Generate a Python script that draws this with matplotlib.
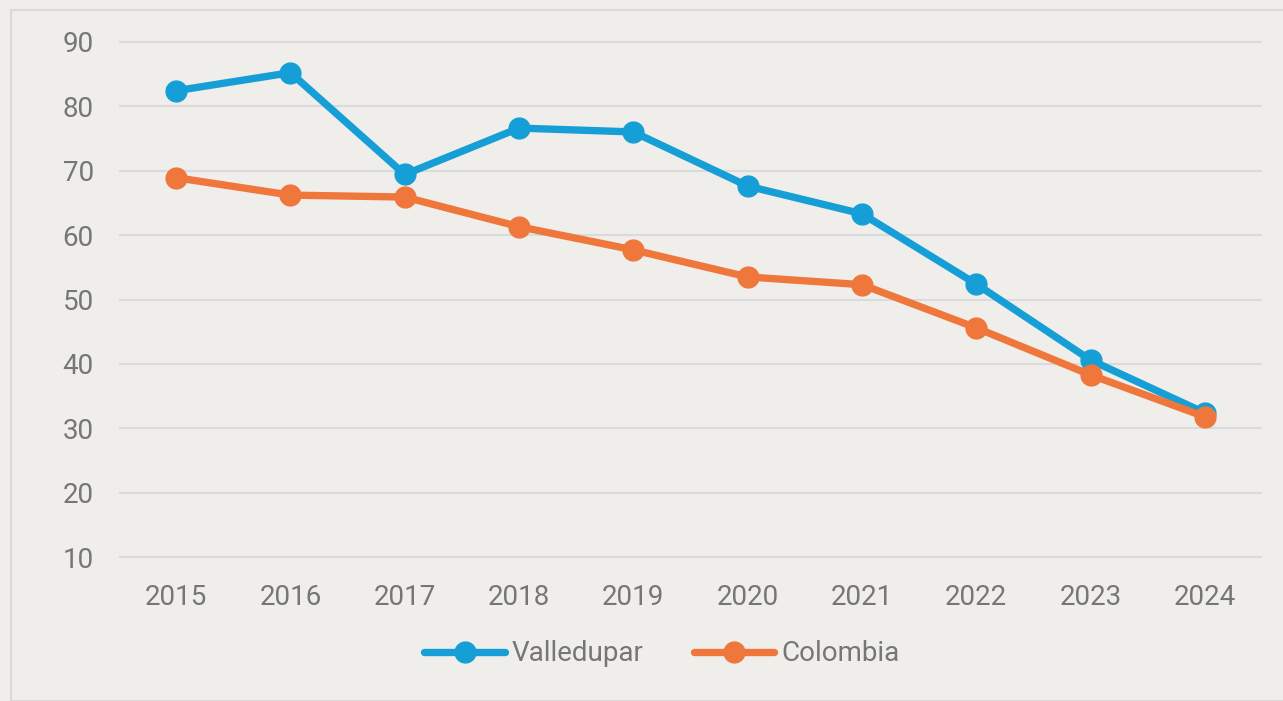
import matplotlib
matplotlib.use("Agg")
import matplotlib.pyplot as plt
from matplotlib import font_manager as fm
from matplotlib.patches import Rectangle

years = ["2015", "2016", "2017", "2018", "2019", "2020", "2021", "2022", "2023", "2024"]
valledupar = [82.4, 85.2, 69.4, 76.6, 76.0, 67.6, 63.3, 52.4, 40.6, 32.4]
colombia = [68.9, 66.2, 65.9, 61.3, 57.7, 53.5, 52.3, 45.6, 38.3, 31.8]
yticks = [10, 20, 30, 40, 50, 60, 70, 80, 90]

names = {f.name for f in fm.fontManager.ttflist}
fam = "Roboto" if "Roboto" in names else "DejaVu Sans"
plt.rcParams['font.family'] = [fam, 'DejaVu Sans']

bg = "#EFEEEA"
blue = "#169FD7"
orange = "#EF773C"
txt = "#767676"

W, H = 1283, 701
fig = plt.figure(figsize=(W/100, H/100), dpi=100, facecolor=bg)
fig.patches.append(Rectangle((11/W, 0), (W-11)/W + 0.01, (H-10)/H, transform=fig.transFigure,
                             fill=False, edgecolor="#D9D9D9", linewidth=1.5))
ax = fig.add_axes([119/W, 1-565/H, (1262-119)/W, (565-34)/H])
ax.set_facecolor(bg)
x = list(range(len(years)))
ax.plot(x, valledupar, color=blue, lw=5.3, marker="o", ms=15, label="Valledupar",
        solid_capstyle="round", zorder=3)
ax.plot(x, colombia, color=orange, lw=5.3, marker="o", ms=15, label="Colombia",
        solid_capstyle="round", zorder=4)
ax.set_xlim(-0.5, 9.5)
ax.set_ylim(8.8, 91.2)
ax.set_yticks(yticks)
ax.set_xticks(x)
ax.set_xticklabels(years)
ax.yaxis.grid(True, color="#D9DADC", lw=1.5)
ax.set_axisbelow(True)
for s in ax.spines.values():
    s.set_visible(False)
ax.tick_params(length=0, labelsize=20, colors=txt)
ax.tick_params(axis='y', pad=18)
ax.tick_params(axis='x', pad=14)
leg = ax.legend(loc="upper center", bbox_to_anchor=(0.475, -0.095), ncol=2, frameon=False,
                fontsize=20, handlelength=2.9, columnspacing=1.8, handletextpad=0.25)
for t in leg.get_texts():
    t.set_color(txt)
fig.savefig("out.png", dpi=100, facecolor=bg)
